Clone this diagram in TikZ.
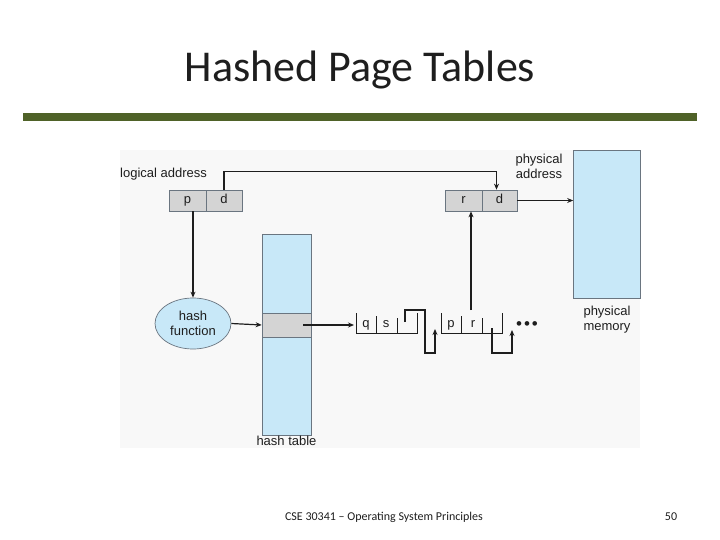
\documentclass[tikz,border=0pt]{standalone}
\usepackage{fontspec}
\setmainfont{Carlito}
\newfontfamily\figfont{Liberation Sans}
\usetikzlibrary{arrows.meta,shapes.geometric}
\definecolor{slideolive}{HTML}{4F6228}
\definecolor{figblue}{HTML}{C8E8F8}
\definecolor{figgray}{HTML}{D4D4D4}
\definecolor{figedge}{HTML}{6A7580}
\definecolor{figink}{HTML}{1E1E1E}
\definecolor{figback}{HTML}{F8F8F8}

\begin{document}
\begin{tikzpicture}[
  x=1pt,
  y=-1pt,
  every node/.style={figink},
  lbl/.style={font=\figfont\fontsize{13}{15}\selectfont, inner sep=0pt, align=center},
  letter/.style={lbl, text height=9.5pt, text depth=2.5pt},
  field/.style={draw=figedge, fill=figgray, line width=0.7pt, minimum height=21pt,
    inner sep=0pt, text height=9.5pt, text depth=2.5pt,
    font=\figfont\fontsize{13}{15}\selectfont},
  bluebox/.style={draw=figedge, fill=figblue, line width=0.7pt, inner sep=0pt},
  link/.style={figink, line width=1.2pt},
  arr/.style={link, -{Stealth[length=6pt, width=5pt]}},
  wall/.style={figink, line width=1pt}
]
  % ---- page, 720 x 540 ------------------------------------------------
  \useasboundingbox (0,0) rectangle (720,540);
  \fill[white] (0,0) rectangle (720,540);

  % ---- title and rule --------------------------------------------------
  \node[anchor=base, inner sep=0pt, font=\fontsize{44}{50}\selectfont] (title)
    at (360,82) {Hashed Page Tables};
  \fill[slideolive] (23,113) rectangle (697,121);

  % ---- figure background -----------------------------------------------
  \fill[figback] (120,150) rectangle (640,448);

  % ---- logical and physical address ------------------------------------
  \node[lbl, anchor=west] (logical) at (120,174) {logical address};
  \node[field, minimum width=37pt] (p) at (187.5,200.5) {p};
  \node[field, minimum width=36pt] (d) at (224,200.5) {d};
  \node[field, minimum width=37pt] (r) at (463.5,200.5) {r};
  \node[field, minimum width=35pt] (dd) at (499.5,200.5) {d};
  \node[lbl] (physaddr) at (539,166) {physical\\address};

  % ---- physical memory -------------------------------------------------
  \node[bluebox, minimum width=67pt, minimum height=148pt] (pm) at (607,224) {};
  \node[lbl] (physmem) at (607,320) {physical\\memory};

  % ---- hash function and hash table ------------------------------------
  \node[bluebox, ellipse, minimum width=76pt, minimum height=51pt,
    font=\figfont\fontsize{13}{15}\selectfont, align=center] (hf) at (193,323.5)
    {hash\\function};
  \node[bluebox, minimum width=49pt, minimum height=201pt] (ht) at (286.5,335) {};
  \node[field, minimum width=49pt, minimum height=24pt] (hrow) at (286.5,325) {};
  \node[lbl, anchor=north] (htlabel) at (286.5,436) {hash table};

  % ---- chain of entries ------------------------------------------------
  \coordinate (e1) at (356,333);
  \coordinate (e2) at (441,333);
  \foreach \e in {e1,e2} {
    \draw[wall] ([yshift=20pt]\e) -- (\e) -- ([xshift=61pt]\e) -- ([xshift=61pt,yshift=20pt]\e);
    \draw[wall] ([xshift=20pt,yshift=17pt]\e) -- ([xshift=20pt]\e);
    \draw[wall] ([xshift=41pt,yshift=15pt]\e) -- ([xshift=41pt]\e);
  }
  \node[letter] (q) at (366,324) {q};
  \node[letter] (s) at (386,324) {s};
  \node[letter] (pp) at (451,324) {p};
  \node[letter] (rr) at (473,324) {r};
  \node[lbl, font=\figfont\fontsize{17}{19}\selectfont] (dots) at (527,326)
    {•\hspace{2pt}•\hspace{2pt}•};

  % ---- pointers --------------------------------------------------------
  \coordinate (ptr1) at (405,322);
  \coordinate (ptr2) at (492,328);
  \coordinate (rptr) at (471,310);
  \coordinate (hrowptr) at (303,325);
  \coordinate (chainin) at (354,325);

  \draw[arr] (ptr1) -- ++(0,-12) -- ++(20,0) -- ++(0,43) -- ++(10,0) -- ++(0,-24);
  \draw[arr] (ptr2) -- ++(0,25) -- ++(20,0) -- ++(0,-23);

  % ---- connectors ------------------------------------------------------
  \draw[arr] (d.north) -- ++(0,-18) -| ([xshift=-3pt]dd.north);
  \draw[arr] (p.south -| hf.north) -- (hf.north);
  \draw[arr] (hf.east) -- (hrow.west);
  \draw[arr] (hrowptr) -- (chainin);
  \draw[arr] (rptr) -- (rptr |- r.south);
  \draw[arr] (dd.east) -- (dd.east -| pm.west);

  % ---- footer ----------------------------------------------------------
  \node[anchor=base, inner sep=0pt, font=\fontsize{12}{14}\selectfont] (footer)
    at (384,520) {CSE 30341 -- Operating System Principles};
  \node[anchor=base, inner sep=0pt, font=\fontsize{12}{14}\selectfont] (pageno)
    at (671,520) {50};
\end{tikzpicture}
\end{document}
